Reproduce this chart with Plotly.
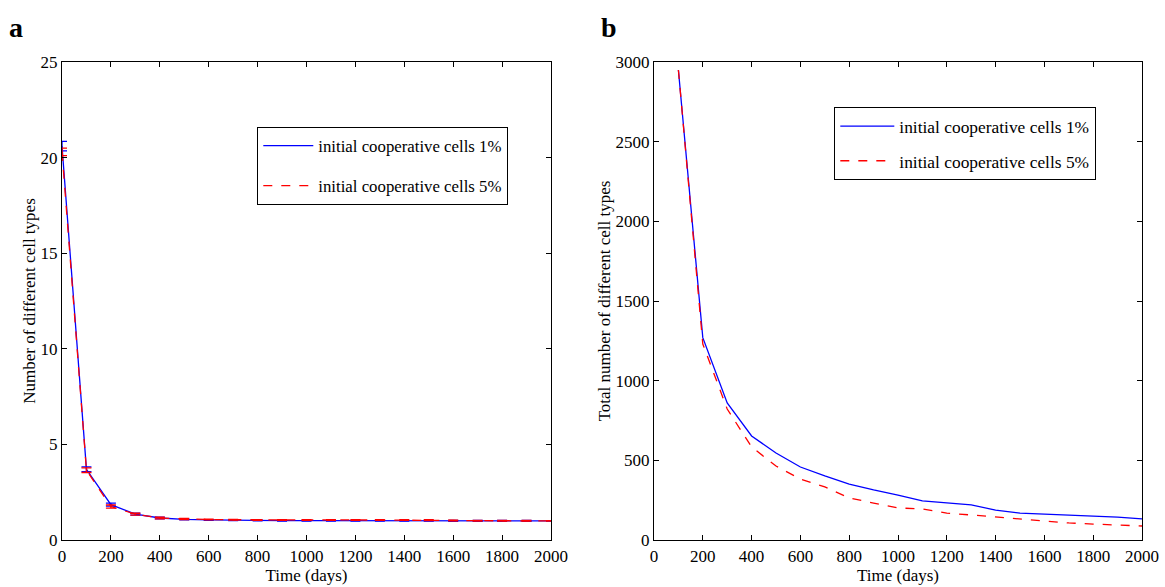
import plotly.graph_objects as go

# Panel a: number of distinct cell types over time (mean with error bars)
days_a = [0, 100, 200, 300, 400, 500, 600, 700, 800, 900, 1000,
          1100, 1200, 1300, 1400, 1500, 1600, 1700, 1800, 1900, 2000]
types_1pct = [20.6, 3.7, 1.85, 1.35, 1.15, 1.08, 1.05, 1.03, 1.02, 1.01, 1.01,
              1.01, 1.01, 1.01, 1.01, 1.01, 1.0, 1.0, 1.0, 1.0, 1.0]
types_5pct = [20.3, 3.65, 1.75, 1.35, 1.15, 1.1, 1.07, 1.06, 1.05, 1.05, 1.05,
              1.05, 1.05, 1.05, 1.05, 1.04, 1.02, 1.01, 1.01, 1.01, 1.0]
err_1pct = [0.25, 0.12, 0.08, 0.05, 0.04, 0.03, 0.02, 0.02, 0.02, 0.02, 0.02,
            0.02, 0.02, 0.02, 0.02, 0.02, 0.02, 0.02, 0.02, 0.02, 0.01]
err_5pct = [0.2, 0.12, 0.08, 0.05, 0.04, 0.03, 0.02, 0.02, 0.02, 0.02, 0.02,
            0.02, 0.02, 0.02, 0.02, 0.02, 0.02, 0.02, 0.02, 0.02, 0.01]

# Panel b: total number of distinct cell types over time
days_b = [100, 200, 300, 400, 500, 600, 700, 800, 900, 1000,
          1100, 1200, 1300, 1400, 1500, 1600, 1700, 1800, 1900, 2000]
total_1pct = [2950, 1270, 860, 653, 546, 458, 402, 351, 314, 282,
              245, 232, 220, 188, 169, 163, 157, 150, 144, 132]
total_5pct = [2950, 1230, 822, 584, 464, 383, 333, 264, 232, 201,
              195, 169, 157, 144, 132, 119, 107, 100, 94, 88]

label_1 = "initial cooperative cells 1%"
label_5 = "initial cooperative cells 5%"
BLUE = "#0000ff"
RED = "#ff0000"
FONT = "'Liberation Serif', 'Times New Roman', serif"

fig = go.Figure()

fig.add_trace(go.Scatter(
    x=days_a, y=types_1pct, mode="lines", name=label_1,
    line=dict(color=BLUE, width=1.3),
    error_y=dict(type="data", array=err_1pct, color=BLUE, thickness=1.3, width=5),
    xaxis="x", yaxis="y", legend="legend", legendgroup="a1"))
fig.add_trace(go.Scatter(
    x=days_a, y=types_5pct, mode="lines", name=label_5,
    line=dict(color=RED, width=1.3, dash="dash"),
    error_y=dict(type="data", array=err_5pct, color=RED, thickness=1.3, width=5),
    xaxis="x", yaxis="y", legend="legend", legendgroup="a5"))

fig.add_trace(go.Scatter(
    x=days_b, y=total_1pct, mode="lines", name=label_1,
    line=dict(color=BLUE, width=1.3),
    xaxis="x2", yaxis="y2", legend="legend2", legendgroup="b1"))
fig.add_trace(go.Scatter(
    x=days_b, y=total_5pct, mode="lines", name=label_5,
    line=dict(color=RED, width=1.3, dash="dash"),
    xaxis="x2", yaxis="y2", legend="legend2", legendgroup="b5"))

W, H = 1165, 587

def px_x(p):
    return p / W

def px_y(p):
    return 1 - p / H

axis_common = dict(
    showline=True, linecolor="black", linewidth=1.3, mirror="ticks",
    ticks="inside", ticklen=5, tickcolor="black", tickwidth=1.3,
    showgrid=False, zeroline=False, automargin=False,
    tickfont=dict(family=FONT, size=17, color="black"),
)

fig.update_layout(
    width=W, height=H,
    margin=dict(l=0, r=0, t=0, b=0, autoexpand=False),
    paper_bgcolor="white", plot_bgcolor="white",
    font=dict(family=FONT, color="black"),
    xaxis=dict(domain=[px_x(62), px_x(551)], range=[0, 2000], dtick=200,
               title=dict(text="Time (days)", font=dict(family=FONT, size=17), standoff=0),
               anchor="y", **axis_common),
    yaxis=dict(domain=[px_y(540), px_y(62)], range=[0, 25], dtick=5,
               title=dict(text="Number of different cell types", font=dict(family=FONT, size=17), standoff=0),
               anchor="x", **axis_common),
    xaxis2=dict(domain=[px_x(654), px_x(1142)], range=[0, 2000], dtick=200,
                title=dict(text="Time (days)", font=dict(family=FONT, size=17), standoff=0),
                anchor="y2", **axis_common),
    yaxis2=dict(domain=[px_y(540), px_y(62)], range=[0, 3000], dtick=500,
                title=dict(text="Total number of different cell types", font=dict(family=FONT, size=17), standoff=0),
                anchor="x2", **axis_common),
    legend=dict(x=px_x(257), y=px_y(127), xanchor="left", yanchor="top",
                bgcolor="white", bordercolor="black", borderwidth=1.3,
                font=dict(family=FONT, size=16.8), tracegroupgap=15,
                itemwidth=50),
    legend2=dict(x=px_x(834), y=px_y(107), xanchor="left", yanchor="top",
                 bgcolor="white", bordercolor="black", borderwidth=1.3,
                 font=dict(family=FONT, size=17.4), tracegroupgap=9,
                 itemwidth=54),
    showlegend=True,
)

fig.add_annotation(text="<b>a</b>", x=px_x(7), y=px_y(27), xref="paper", yref="paper",
                   xanchor="left", yanchor="middle", showarrow=False,
                   font=dict(family=FONT, size=28, color="black"))
fig.add_annotation(text="<b>b</b>", x=px_x(599), y=px_y(27), xref="paper", yref="paper",
                   xanchor="left", yanchor="middle", showarrow=False,
                   font=dict(family=FONT, size=28, color="black"))

fig.write_html("out.html")
